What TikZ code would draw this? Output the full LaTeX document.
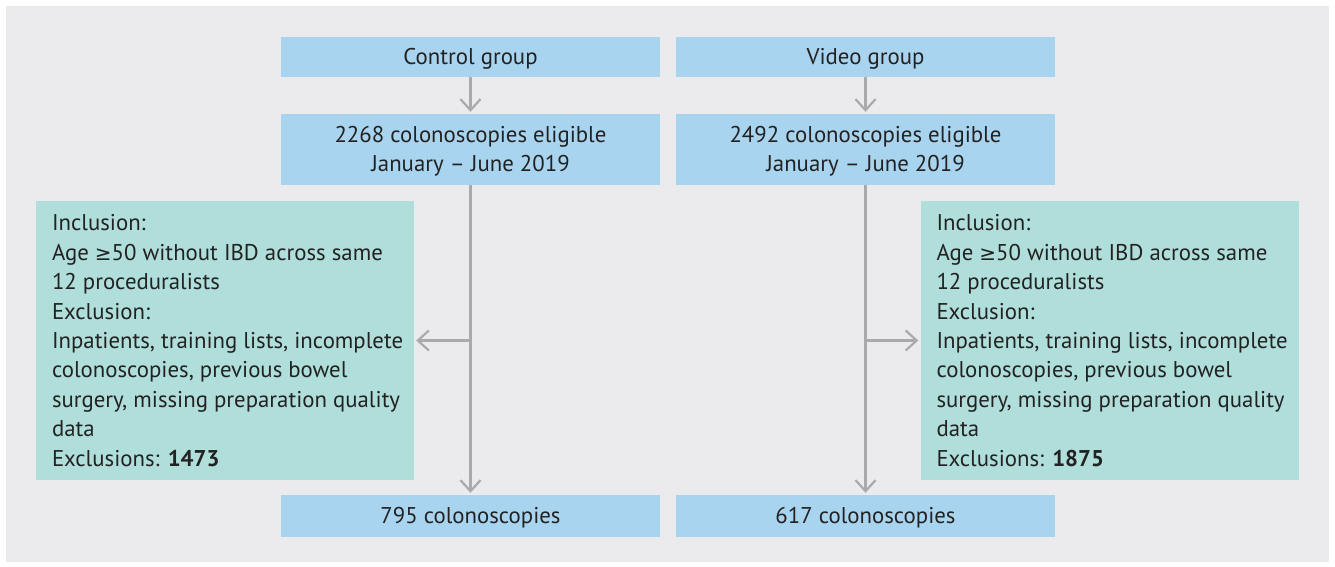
\documentclass[tikz,border=0pt]{standalone}
\usepackage{fontspec}
\setmainfont{PT Sans}
\newfontfamily\symfont{DejaVu Sans}
\usetikzlibrary{arrows.meta}

\definecolor{panelgray}{HTML}{EBEBED}
\definecolor{boxblue}{HTML}{A9D4EF}
\definecolor{boxteal}{HTML}{B0DEDB}
\definecolor{arrowgray}{HTML}{AAAAAD}
\definecolor{textdark}{HTML}{222222}

\tikzset{
  groupbox/.style={fill=boxblue, minimum width=379pt, inner sep=0pt, align=center,
    text=textdark, text depth=1pt, font=\fontsize{22.8}{29.4}\selectfont},
  critbox/.style={fill=boxteal, minimum width=378pt, minimum height=279pt, inner sep=0pt},
  crittext/.style={anchor=west, inner sep=0pt, align=left, text=textdark,
    font=\fontsize{22.8}{29.4}\selectfont},
  flowarrow/.style={draw=arrowgray, line width=2.2pt, shorten >=2pt,
    -{Straight Barb[length=11pt, width=20pt, line width=2.2pt]}}
}

\begin{document}
\begin{tikzpicture}[x=1pt, y=-1pt]
        % Canvas and panel
        \fill[white] (0,0) rectangle (1335,566);
        \fill[panelgray] (6,6) rectangle (1329,562);

        % Group headers
        \node[groupbox, minimum height=40pt] (ctrl) at (470.5,57) {Control group};
        \node[groupbox, minimum height=40pt] (video) at (865.5,57) {Video group};

        % Eligible colonoscopies
        \node[groupbox, minimum height=71pt] (ctrlelig) at (470.5,149.5)
            {2268 colonoscopies eligible\\January -- June 2019};
        \node[groupbox, minimum height=71pt] (videlig) at (865.5,149.5)
            {2492 colonoscopies eligible\\January -- June 2019};

        % Inclusion / exclusion criteria
        \node[critbox] (ctrlcrit) at (225,340.5) {};
        \node[crittext, xshift=16pt] (ctrlcrittext) at (ctrlcrit.west)
            {Inclusion:\\Age {\symfont\fontsize{20}{29.4}\selectfont ≥}50 without IBD across same\\12 proceduralists\\Exclusion:\\
             Inpatients, training lists, incomplete\\colonoscopies, previous bowel\\
             surgery, missing preparation quality\\data\\Exclusions: \textbf{1473}};
        \node[critbox] (vidcrit) at (1109.5,340.5) {};
        \node[crittext, xshift=16pt] (vidcrittext) at (vidcrit.west)
            {Inclusion:\\Age {\symfont\fontsize{20}{29.4}\selectfont ≥}50 without IBD across same\\12 proceduralists\\Exclusion:\\
             Inpatients, training lists, incomplete\\colonoscopies, previous bowel\\
             surgery, missing preparation quality\\data\\Exclusions: \textbf{1875}};

        % Final counts
        \node[groupbox, minimum height=42pt] (ctrlfinal) at (470.5,516) {795 colonoscopies};
        \node[groupbox, minimum height=42pt] (vidfinal) at (865.5,516) {617 colonoscopies};

        % Branch points
        \coordinate (ctrlbranch) at (ctrlelig.south |- ctrlcrit.east);
        \coordinate (vidbranch) at (videlig.south |- vidcrit.west);

        % Arrows
        \draw[flowarrow] (ctrl) -- (ctrlelig);
        \draw[flowarrow] (video) -- (videlig);
        \draw[flowarrow] (ctrlelig) -- (ctrlfinal);
        \draw[flowarrow] (videlig) -- (vidfinal);
        \draw[flowarrow] (ctrlbranch) -- (ctrlcrit.east);
        \draw[flowarrow] (vidbranch) -- (vidcrit.west);
\end{tikzpicture}
\end{document}
